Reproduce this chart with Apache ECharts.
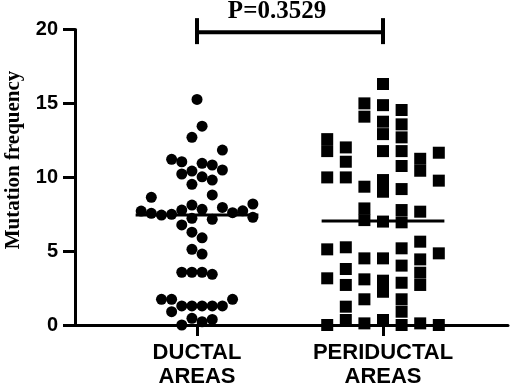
<!DOCTYPE html>
<html>
<head>
<meta charset="utf-8">
<script src="https://cdn.jsdelivr.net/npm/echarts@6/dist/echarts.min.js"></script>
<style>html,body{margin:0;padding:0;background:#fff;}#c{width:510px;height:390px;}</style>
</head>
<body>
<div id="c"></div>
<script>
const categories = ['DUCTAL\nAREAS', 'PERIDUCTAL\nAREAS'];
const yTicks = [0, 5, 10, 15, 20];
const yTitle = 'Mutation frequency';
const pLabel = 'P=0.3529';

// Ductal areas: values and beeswarm column index
const ductalValues = [15.27,13.46,12.70,11.84,11.21,11.05,10.94,10.83,10.49,10.42,10.22,10.03,9.81,9.52,8.80,8.64,8.19,8.12,7.96,7.83,7.78,7.73,7.71,7.60,7.56,7.49,7.44,7.29,7.22,7.15,6.77,6.28,5.90,5.12,4.80,3.57,3.57,3.57,3.43,1.74,1.74,1.74,1.29,1.29,1.29,1.29,1.29,0.90,0.45,0.22,0.38,0.00];
const ductalColumns = [0,0.5,-0.5,2.5,-2.5,-1.5,0.5,1.5,2.5,-0.5,-1.5,0.5,1.5,-0.5,1.5,-4.5,5.5,-0.5,2.5,0.5,-1.5,4.5,-5.5,3.5,-4.5,-2.5,-3.5,5.5,-0.5,1.5,-1.5,-0.5,0.5,-0.5,0.5,-1.5,-0.5,0.5,1.5,-3.5,-2.5,3.5,-1.5,-0.5,0.5,1.5,2.5,-2.5,-0.5,0.5,1.5,-1.5];

// Periductal areas
const periValues = [
  12.58,11.77,9.99,5.12,3.16,0.00,
  12.02,11.05,9.99,5.26,3.79,2.71,1.24,0.34,
  15.00,14.10,9.36,7.89,7.10,4.51,3.09,1.74,0.11,
  16.31,14.88,13.76,12.92,11.77,9.81,9.02,7.00,4.51,3.00,2.25,0.34,
  14.55,13.58,12.70,11.77,10.76,9.20,7.78,6.95,5.19,4.02,2.86,1.74,0.90,0.00,
  11.25,10.44,7.67,5.64,4.44,3.54,2.71,0.11,
  11.66,9.77,4.85,0.00
];
const periColumns = [
  -3,-3,-3,-3,-3,-3,
  -2,-2,-2,-2,-2,-2,-2,-2,
  -1,-1,-1,-1,-1,-1,-1,-1,-1,
  0,0,0,0,0,0,0,0,0,0,0,0,
  1,1,1,1,1,1,1,1,1,1,1,1,1,1,
  2,2,2,2,2,2,2,2,
  3,3,3,3
];

const means = [7.44, 7.04];
const bracketY = 19.82, bracketTop = 20.77, bracketBottom = 19.01;

const ductalColW = 0.0546, periColW = 0.1, meanHalf = 0.33;
const ductalData = ductalValues.map((v, i) => [0 + ductalColumns[i] * ductalColW, v]);
const periData = periValues.map((v, i) => [1 + periColumns[i] * periColW, v]);

const chart = echarts.init(document.getElementById('c'), null, {renderer: 'canvas'});
const lineStyleBlack = {color: '#000', width: 3};
const makeLine = (data, w) => ({
  type: 'line', data: data, symbol: 'none', clip: false, silent: true,
  lineStyle: {color: '#000', width: w, opacity: 1}, z: 5, animation: false
});
const sansBold = {color: '#000', fontFamily: 'Liberation Sans, Arial, sans-serif', fontWeight: 'bold'};
chart.setOption({
  animation: false,
  grid: {left: 75, right: 2, top: 29.5, bottom: 65, containLabel: false},
  xAxis: {
    type: 'value', min: -0.656, max: 1.672,
    axisLine: {show: true, onZero: false, lineStyle: lineStyleBlack},
    axisTick: {show: true, length: 11, lineStyle: {color: '#000', width: 3}, customValues: [0, 1]},
    axisLabel: Object.assign({
      customValues: [0, 1], margin: 16,
      formatter: v => categories[Math.round(v)] || '',
      fontSize: 22, lineHeight: 24
    }, sansBold),
    splitLine: {show: false}
  },
  yAxis: {
    type: 'value', min: yTicks[0], max: yTicks[yTicks.length - 1], interval: 5,
    axisLine: {show: true, onZero: false, lineStyle: lineStyleBlack},
    axisTick: {show: true, length: 12, lineStyle: {color: '#000', width: 3}},
    axisLabel: Object.assign({margin: 17, fontSize: 20}, sansBold),
    splitLine: {show: false}
  },
  graphic: [
    {type: 'text', x: 14, y: 160, rotation: Math.PI / 2,
     style: {text: yTitle, fill: '#000', font: 'bold 21px "Liberation Serif"', align: 'center', verticalAlign: 'middle'}},
    {type: 'text', x: 277, y: 12,
     style: {text: pLabel, fill: '#000', font: 'bold 25px "Liberation Serif"', align: 'center', verticalAlign: 'middle'}}
  ],
  series: [
    {type: 'scatter', data: ductalData, symbol: 'circle', symbolSize: 11, itemStyle: {color: '#000', opacity: 1}, clip: false},
    {type: 'scatter', data: periData, symbol: 'rect', symbolSize: 12, itemStyle: {color: '#000', opacity: 1}, clip: false},
    makeLine([[0 - meanHalf, means[0]], [0 + meanHalf, means[0]]], 3),
    makeLine([[1 - meanHalf, means[1]], [1 + meanHalf, means[1]]], 3),
    makeLine([[0, bracketY], [1, bracketY]], 4),
    makeLine([[0, bracketTop], [0, bracketBottom]], 4),
    makeLine([[1, bracketTop], [1, bracketBottom]], 4)
  ]
});
</script>
</body>
</html>
